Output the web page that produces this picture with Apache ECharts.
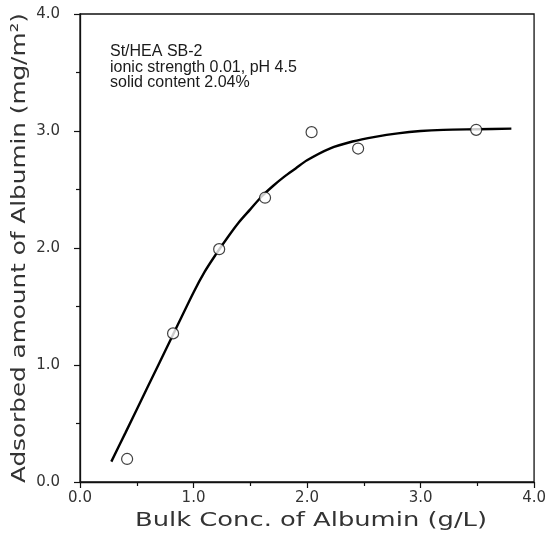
<!DOCTYPE html>
<html>
<head>
<meta charset="utf-8">
<script src="https://cdn.jsdelivr.net/npm/echarts@6/dist/echarts.min.js"></script>
<style>
html,body{margin:0;padding:0;background:#fff;}
#chart{width:549px;height:535px;}
</style>
</head>
<body>
<div id="chart"></div>
<script>
// Measured data points (circles)
var pointX = [0.415, 0.82, 1.226, 1.63, 2.04, 2.45, 3.49];
var pointY = [0.197, 1.27, 1.99, 2.43, 2.99, 2.85, 3.01];
// Fitted curve (solid line)
var curveX = [0.276, 0.4, 0.6, 0.8, 1.0, 1.1, 1.2, 1.3, 1.4, 1.5, 1.6, 1.7, 1.8, 1.9, 2.0, 2.2, 2.4, 2.6, 2.8, 3.0, 3.2, 3.5, 3.8];
var curveY = [0.174, 0.42, 0.82, 1.22, 1.62, 1.80, 1.95, 2.09, 2.22, 2.33, 2.44, 2.53, 2.61, 2.68, 2.75, 2.85, 2.91, 2.95, 2.98, 3.00, 3.01, 3.015, 3.02];
// Annotation lines
var noteLines = ['St/HEA SB-2', 'ionic strength 0.01, pH 4.5', 'solid content 2.04%'];
var xTitle = 'Bulk Conc. of Albumin (g/L)';
var yTitle = 'Adsorbed amount of Albumin (mg/m\u00B2)';

var points = pointX.map(function (x, i) { return [x, pointY[i]]; });
var curve = curveX.map(function (x, i) { return [x, curveY[i]]; });

// measure title widths to stretch them to the reference's spread
var titleFont = '20px "DejaVu Sans"';
var mctx = document.createElement('canvas').getContext('2d');
mctx.font = titleFont;
var xTitleW = mctx.measureText(xTitle).width;
var yTitleW = mctx.measureText(yTitle).width;

var axisColor = '#111';
var chart = echarts.init(document.getElementById('chart'), null, {renderer: 'canvas'});
var tickFont = {fontFamily: 'DejaVu Sans', fontSize: 15, color: '#333'};

var graphics = noteLines.map(function (t, i) {
  return {
    type: 'text', left: 110, top: 44 + i * 15.5,
    style: {text: t, fontFamily: 'Liberation Sans', fontSize: 16, fill: '#1a1a1a'}
  };
});
graphics.push({
  type: 'text', x: 311, y: 521, scaleX: 352 / xTitleW,
  style: {text: xTitle, font: titleFont, fill: '#333', textAlign: 'center', textVerticalAlign: 'middle'}
});
graphics.push({
  type: 'text', x: 20, y: 248, rotation: Math.PI / 2, scaleX: 470 / yTitleW,
  style: {text: yTitle, font: titleFont, fill: '#333', textAlign: 'center', textVerticalAlign: 'middle'}
});

chart.setOption({
  animation: false,
  backgroundColor: '#fff',
  grid: {left: 80, right: 10, top: 14, bottom: 53, show: true, borderColor: axisColor, borderWidth: 1.3, backgroundColor: 'transparent'},
  xAxis: {
    type: 'value', min: 0, max: 4, interval: 1,
    axisLine: {show: true, lineStyle: {color: axisColor, width: 1.3}},
    axisTick: {show: true, length: 6, lineStyle: {color: axisColor, width: 1.2}},
    minorTick: {show: true, splitNumber: 2, length: 4, lineStyle: {color: axisColor, width: 1.2}},
    axisLabel: Object.assign({margin: 9, formatter: function (v) { return v.toFixed(1); }}, tickFont),
    splitLine: {show: false}
  },
  yAxis: {
    type: 'value', min: 0, max: 4, interval: 1,
    axisLine: {show: true, lineStyle: {color: axisColor, width: 1.3}},
    axisTick: {show: true, length: 6, lineStyle: {color: axisColor, width: 1.2}},
    minorTick: {show: true, splitNumber: 2, length: 4, lineStyle: {color: axisColor, width: 1.2}},
    axisLabel: Object.assign({margin: 20, formatter: function (v) { return v.toFixed(1); }}, tickFont),
    splitLine: {show: false}
  },
  graphic: graphics,
  series: [
    {
      type: 'line', data: curve, smooth: 0.3, showSymbol: false, symbol: 'none',
      lineStyle: {color: '#000', width: 2.4}, z: 3
    },
    {
      type: 'scatter', data: points, symbol: 'circle', symbolSize: 11,
      itemStyle: {color: '#fff', borderColor: '#111', borderWidth: 1.2}, z: 4
    }
  ]
});
</script>
</body>
</html>
